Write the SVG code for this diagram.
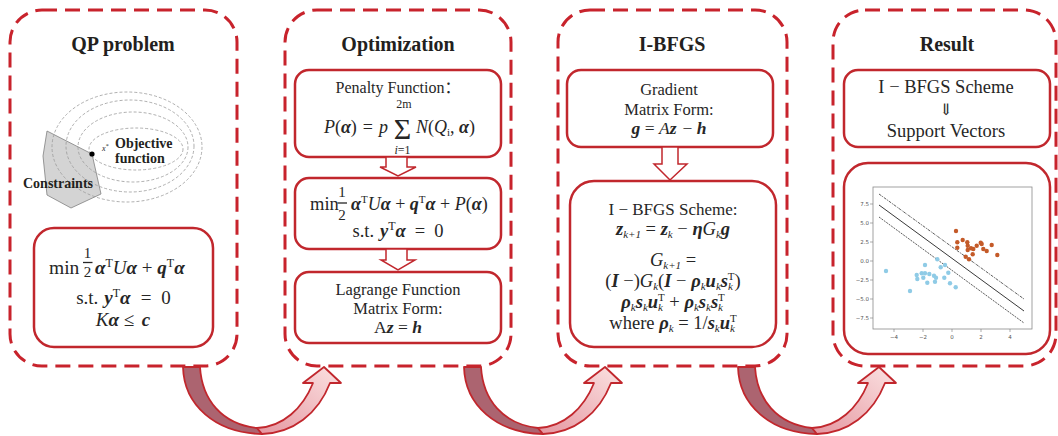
<svg xmlns="http://www.w3.org/2000/svg" width="1058" height="436" viewBox="0 0 1058 436">
<defs>
<style>
.panel{fill:none;stroke:#c8232c;stroke-width:3;stroke-dasharray:15 8}
.box{fill:#fff;stroke:#c1272d;stroke-width:2.5}
.hol{fill:#fff;stroke:#c1272d;stroke-width:1.5}
.ttl{font-family:"Liberation Serif",serif;font-weight:bold;font-size:20px;fill:#231f20;text-anchor:middle}
.f{font-family:"Liberation Serif","DejaVu Serif","Noto Sans CJK SC",serif;fill:#262626}
.m{text-anchor:middle}
.e{text-anchor:end}
.i{font-style:italic}
.bi{font-style:italic;font-weight:bold}
.sb{font-size:11px}
.sc{font-size:12px}
.lbl{font-family:"Liberation Serif",serif;font-weight:bold;font-size:14px;fill:#231f20}
.tk{font-family:"DejaVu Sans",sans-serif;font-size:5.5px;fill:#555}
.ell{fill:none;stroke:#9a9a9a;stroke-width:0.8;stroke-dasharray:3 2}
.or{fill:#c45a28}
.bl{fill:#8fcbe6}
.dk{fill:#ac6470;stroke:#c1272d;stroke-width:1.8;stroke-linejoin:round}
.lt{fill:url(#lg);stroke:#c1272d;stroke-width:1.8;stroke-linejoin:round}
</style>
<linearGradient id="lg" x1="0" y1="1" x2="1" y2="0">
<stop offset="0" stop-color="#e596a0"/>
<stop offset="1" stop-color="#fbe2e2"/>
</linearGradient>
<g id="uarrow">
<path class="dk" d="M183 367 L200 367 C202 400 222 424 257 428 L262 434 C215 433 184 405 183 367 Z"/>
<path class="lt" d="M257 428 C283 427 303 408 313 383 L303 383 L324 367 L341 383 L330 383 C318 414 293 433 262 434 Z"/>
</g>
</defs>
<rect width="1058" height="436" fill="#fff"/>

<!-- Panel 1 -->
<g id="qp-problem">
<rect class="panel" x="10" y="10" width="227" height="356" rx="32"/>
<text class="ttl" x="123" y="51">QP problem</text>
<polygon points="47,131 92,154 101,194 71,208 47,195 43,156" fill="#d4d4d4" stroke="#808080" stroke-width="0.8"/>
<ellipse class="ell" cx="127" cy="147" rx="75" ry="55"/>
<ellipse class="ell" cx="130" cy="146" rx="64" ry="46"/>
<ellipse class="ell" cx="133" cy="147" rx="55" ry="35"/>
<ellipse class="ell" cx="136" cy="149" rx="47" ry="21"/>
<circle cx="92" cy="154" r="2.6" fill="#000"/>
<text class="f i" x="102" y="151" font-size="8" fill="#777">x<tspan font-size="6" dy="-3">*</tspan></text>
<text class="lbl" x="115" y="148">Objective</text>
<text class="lbl" x="115" y="163">function</text>
<text class="lbl" x="23" y="188">Constraints</text>
<rect class="box" x="34" y="228" width="179" height="119" rx="20"/>
<text class="f" x="49" y="274" font-size="19.5">min</text>
<text class="f m" x="87.5" y="258" font-size="15">1</text>
<line x1="83" y1="262.5" x2="92.5" y2="262.5" stroke="#262626" stroke-width="1.3"/>
<text class="f m" x="87.5" y="276.5" font-size="15">2</text>
<text class="f" x="95" y="274" font-size="19"><tspan class="bi">α</tspan><tspan class="sc" dy="-7">T</tspan><tspan class="i" dy="7">U</tspan><tspan class="bi">α</tspan> + <tspan class="bi">q</tspan><tspan class="sc" dy="-7">T</tspan><tspan class="bi" dy="7">α</tspan></text>
<text class="f m" x="123.5" y="304" font-size="19">s.t.<tspan class="bi" dx="6">y</tspan><tspan class="sc" dy="-7">T</tspan><tspan class="bi" dy="7">α</tspan><tspan dx="10">=</tspan><tspan dx="10">0</tspan></text>
<text class="f m" x="123" y="326" font-size="19"><tspan class="i">K</tspan><tspan class="bi">α</tspan> ≤ <tspan class="bi" dx="3">c</tspan></text>
</g>

<!-- Panel 2 -->
<g id="optimization">
<rect class="panel" x="285" y="10" width="226" height="356" rx="32"/>
<text class="ttl" x="398" y="51">Optimization</text>
<rect class="box" x="295" y="70" width="206" height="87" rx="14"/>
<text class="f m" x="398" y="93" font-size="16">Penalty Function：</text>
<text class="f e" x="388" y="133" font-size="18"><tspan class="i">P</tspan>(<tspan class="bi">α</tspan>)<tspan dx="6">=</tspan><tspan class="i" dx="6">p</tspan></text>
<text class="f m" x="402.5" y="139" font-size="30">Σ</text>
<text class="f m" x="404" y="108" font-size="12">2m</text>
<text class="f m" x="402.5" y="154" font-size="12"><tspan class="i">i</tspan>=1</text>
<text class="f" x="416" y="133" font-size="18"><tspan class="i">N</tspan>(<tspan class="i">Q</tspan><tspan class="sb" dy="3">i</tspan><tspan dy="-3">, </tspan><tspan class="bi">α</tspan>)</text>
<rect class="box" x="295" y="178" width="206" height="71" rx="14"/>
<text class="f" x="310" y="210" font-size="18.5">min</text>
<text class="f m" x="342" y="197" font-size="15">1</text>
<line x1="337.5" y1="203" x2="347" y2="203" stroke="#262626" stroke-width="1.3"/>
<text class="f m" x="342" y="220" font-size="15">2</text>
<text class="f" x="351" y="210" font-size="18"><tspan class="bi">α</tspan><tspan class="sb" dy="-7">T</tspan><tspan class="i" dy="7">U</tspan><tspan class="bi">α</tspan> + <tspan class="bi">q</tspan><tspan class="sb" dy="-7">T</tspan><tspan class="bi" dy="7">α</tspan> + <tspan class="i">P</tspan>(<tspan class="bi">α</tspan>)</text>
<text class="f m" x="398" y="237" font-size="18.5">s.t.<tspan class="bi" dx="6">y</tspan><tspan class="sc" dy="-7">T</tspan><tspan class="bi" dy="7">α</tspan><tspan dx="9">=</tspan><tspan dx="9">0</tspan></text>
<rect class="box" x="295" y="272" width="206" height="71" rx="14"/>
<text class="f m" x="398" y="295" font-size="16.5">Lagrange Function</text>
<text class="f m" x="398" y="314" font-size="16.5">Matrix Form:</text>
<text class="f m" x="398" y="333" font-size="17.5">A<tspan class="bi">z</tspan> = <tspan class="bi">h</tspan></text>
</g>

<!-- Panel 3 -->
<g id="i-bfgs">
<rect class="panel" x="558" y="10" width="229" height="356" rx="32"/>
<text class="ttl" x="672" y="51">I-BFGS</text>
<rect class="box" x="567" y="70" width="206" height="77" rx="14"/>
<text class="f m" x="669" y="95" font-size="16.5">Gradient</text>
<text class="f m" x="669" y="115" font-size="16.5">Matrix Form:</text>
<text class="f m" x="669" y="134" font-size="17.5"><tspan class="bi">g</tspan> = <tspan class="i">A</tspan><tspan class="bi">z</tspan><tspan dx="6">−</tspan> <tspan class="bi">h</tspan></text>
<rect class="box" x="570" y="181" width="206" height="166" rx="24"/>
<text class="f m" x="673" y="215" font-size="17">I − BFGS Scheme:</text>
<text class="f m" x="673" y="235" font-size="18.5"><tspan class="bi">z</tspan><tspan class="sb i" dy="3">k+1</tspan><tspan dy="-3"> = </tspan><tspan class="bi">z</tspan><tspan class="sb i" dy="3">k</tspan><tspan dy="-3"> − </tspan><tspan class="bi">η</tspan><tspan class="i">G</tspan><tspan class="sb i" dy="3">k</tspan><tspan class="bi" dy="-3">g</tspan></text>
<text class="f m" x="673" y="266" font-size="18.5"><tspan class="i">G</tspan><tspan class="sb i" dy="3">k+1</tspan><tspan dy="-3"> =</tspan></text>
<text class="f m" x="673" y="287" font-size="18.5">(<tspan class="bi">I</tspan> −)<tspan class="i">G</tspan><tspan class="sb i" dy="3">k</tspan><tspan dy="-3">(</tspan><tspan class="bi">I</tspan> − <tspan class="bi">ρ</tspan><tspan class="sb i" dy="3">k</tspan><tspan class="bi" dy="-3">u</tspan><tspan class="sb i" dy="3">k</tspan><tspan class="bi" dy="-3">s</tspan><tspan class="sb i" dy="3">k</tspan><tspan class="sb" dx="-5" dy="-10">T</tspan><tspan dy="7">)</tspan></text>
<text class="f m" x="673" y="308" font-size="18.5"><tspan class="bi">ρ</tspan><tspan class="sb i" dy="3">k</tspan><tspan class="bi" dy="-3">s</tspan><tspan class="sb i" dy="3">k</tspan><tspan class="bi" dy="-3">u</tspan><tspan class="sb i" dy="3">k</tspan><tspan class="sb" dx="-5" dy="-10">T</tspan><tspan dy="7"> + </tspan><tspan class="bi">ρ</tspan><tspan class="sb i" dy="3">k</tspan><tspan class="bi" dy="-3">s</tspan><tspan class="sb i" dy="3">k</tspan><tspan class="bi" dy="-3">s</tspan><tspan class="sb i" dy="3">k</tspan><tspan class="sb" dx="-5" dy="-10">T</tspan></text>
<text class="f m" x="673" y="329" font-size="18.5">where <tspan class="bi">ρ</tspan><tspan class="sb i" dy="3">k</tspan><tspan dy="-3"> = 1/</tspan><tspan class="bi">s</tspan><tspan class="sb i" dy="3">k</tspan><tspan class="bi" dy="-3">u</tspan><tspan class="sb i" dy="3">k</tspan><tspan class="sb" dx="-5" dy="-10">T</tspan></text>
</g>

<!-- Panel 4 -->
<g id="result">
<rect class="panel" x="833" y="10" width="223" height="356" rx="32"/>
<text class="ttl" x="947" y="51">Result</text>
<rect class="box" x="844" y="70" width="206" height="77" rx="14"/>
<text class="f m" x="946" y="93" font-size="18.5">I − BFGS Scheme</text>
<text class="f m" x="946" y="115" font-size="16" font-family="DejaVu Serif">⇓</text>
<text class="f m" x="946" y="137" font-size="18.5">Support Vectors</text>
<rect class="box" x="844" y="163" width="206" height="191" rx="24"/>
<g id="svm-plot">
<rect x="873" y="187" width="159" height="142" fill="#fff" stroke="#8a8a8a" stroke-width="0.8"/>
<g stroke="#777" stroke-width="0.6">
<line x1="870" y1="204" x2="873" y2="204"/><line x1="870" y1="223" x2="873" y2="223"/><line x1="870" y1="242" x2="873" y2="242"/><line x1="870" y1="261" x2="873" y2="261"/><line x1="870" y1="280" x2="873" y2="280"/><line x1="870" y1="299" x2="873" y2="299"/><line x1="870" y1="318" x2="873" y2="318"/>
<line x1="894" y1="329" x2="894" y2="332"/><line x1="923" y1="329" x2="923" y2="332"/><line x1="952" y1="329" x2="952" y2="332"/><line x1="981" y1="329" x2="981" y2="332"/><line x1="1010" y1="329" x2="1010" y2="332"/>
</g>
<g class="tk" text-anchor="end">
<text x="869" y="206">7.5</text><text x="869" y="225">5.0</text><text x="869" y="244">2.5</text><text x="869" y="263">0.0</text><text x="869" y="282">−2.5</text><text x="869" y="301">−5.0</text><text x="869" y="320">−7.5</text>
</g>
<g class="tk" text-anchor="middle">
<text x="894" y="339">−4</text><text x="923" y="339">−2</text><text x="952" y="339">0</text><text x="981" y="339">2</text><text x="1010" y="339">4</text>
</g>
<line x1="879" y1="194" x2="1024" y2="299" stroke="#333" stroke-width="0.8" stroke-dasharray="3 1 1 1"/>
<line x1="879" y1="205" x2="1024" y2="311" stroke="#222" stroke-width="0.9"/>
<line x1="879" y1="217" x2="1024" y2="323" stroke="#333" stroke-width="0.8" stroke-dasharray="2 1"/>
<g class="or">
<circle cx="956" cy="231" r="2.2"/><circle cx="957.3" cy="242.3" r="2.2"/><circle cx="957.3" cy="247.7" r="2.2"/><circle cx="962.7" cy="240" r="2.2"/><circle cx="967.3" cy="242.3" r="2.2"/><circle cx="967.7" cy="245.7" r="2.2"/><circle cx="967.7" cy="250" r="2.2"/><circle cx="971" cy="248.3" r="2.2"/><circle cx="973.3" cy="249" r="2.2"/><circle cx="972.7" cy="254.3" r="2.2"/><circle cx="976.7" cy="245.7" r="2.2"/><circle cx="980.7" cy="242.7" r="2.2"/><circle cx="981.7" cy="244" r="2.2"/><circle cx="983.3" cy="249" r="2.2"/><circle cx="986.7" cy="251" r="2.2"/><circle cx="991.7" cy="245" r="2.2"/><circle cx="997.3" cy="255" r="2.2"/><circle cx="965.7" cy="256.7" r="2.2"/><circle cx="969" cy="259.3" r="2.2"/>
</g>
<g class="bl">
<circle cx="886" cy="271" r="2.2"/><circle cx="910" cy="291" r="2.2"/><circle cx="925" cy="265" r="2.2"/><circle cx="916.7" cy="275" r="2.2"/><circle cx="921.7" cy="273.3" r="2.2"/><circle cx="925" cy="273.3" r="2.2"/><circle cx="929.3" cy="274" r="2.2"/><circle cx="917.3" cy="279" r="2.2"/><circle cx="923.3" cy="277.7" r="2.2"/><circle cx="927.3" cy="282.7" r="2.2"/><circle cx="934" cy="275.7" r="2.2"/><circle cx="936" cy="277.7" r="2.2"/><circle cx="935" cy="281.7" r="2.2"/><circle cx="937.3" cy="259.3" r="2.2"/><circle cx="940.7" cy="267.3" r="2.2"/><circle cx="945" cy="265" r="2.2"/><circle cx="948.3" cy="272.7" r="2.2"/><circle cx="944.3" cy="277.7" r="2.2"/><circle cx="950" cy="283.3" r="2.2"/><circle cx="955.7" cy="287.3" r="2.2"/>
</g>
</g>
</g>

<!-- Connectors -->
<g id="connectors">
<polygon class="hol" points="386,157 386,167 380,167 398,176 416,167 407,167 407,157"/>
<polygon class="hol" points="386,249 386,260 381,260 398,270 415,260 407,260 407,249"/>
<polygon class="hol" points="662,147 662,164 654,164 670,180 687,164 678,164 678,147"/>
<use href="#uarrow"/>
<use href="#uarrow" x="281"/>
<use href="#uarrow" x="555"/>
</g>
</svg>
